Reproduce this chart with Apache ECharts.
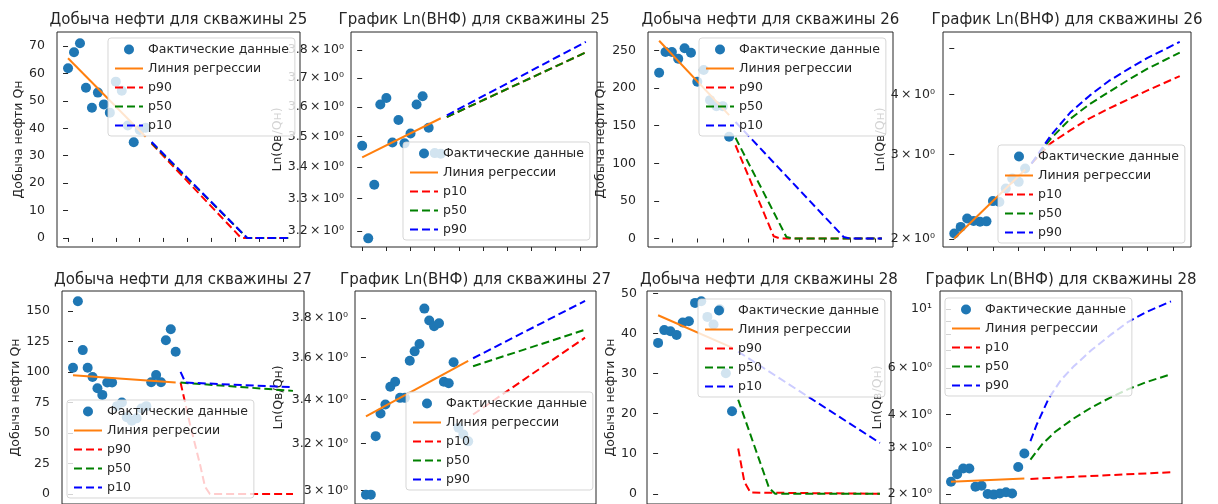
<!DOCTYPE html>
<html>
<head>
<meta charset="utf-8">
<script src="https://cdn.jsdelivr.net/npm/echarts@6/dist/echarts.min.js"></script>
<style>
  html, body { margin: 0; padding: 0; background: #fff; }
  #chart { width: 1218px; height: 504px; }
</style>
</head>
<body>
<div id="chart"></div>
<script>
// ---------- well 25 ----------
const oil25 = [61.9, 67.7, 71.0, 54.8, 47.5, 53.0, 48.7, 45.7, 57.0, 53.7, 41.0, 34.9, 39.4, 40.2];
const oil25Reg = [[0, 65.5], [13, 36.9]];
const oil25P90 = [[14, 34.4], [29, 0], [37, 0]];
const oil25P50 = [[14, 34.7], [30, 0], [37, 0]];
const oil25P10 = [[14, 35.0], [30, 0], [37, 0]];

const vnf25 = [3.470, 3.178, 3.344, 3.609, 3.631, 3.481, 3.556, 3.478, 3.511, 3.609, 3.637, 3.530, 3.446, 3.444];
const vnf25Reg = [[0, 3.432], [13, 3.562]];
const vnf25P10 = [[14, 3.566], [37, 3.792]];
const vnf25P50 = [[14, 3.566], [37, 3.792]];
const vnf25P90 = [[14, 3.572], [37, 3.830]];

// ---------- well 26 ----------
const oil26 = [220.5, 248, 248, 239, 253, 247, 208.5, 224, 184, 176, 176, 135.4];
const oil26Reg = [[0, 263], [11, 164]];
const oil26P90 = [[12, 124], [18, 3], [19, 0], [35, 0]];
const oil26P50 = [[12, 134], [20, 2], [21, 0], [35, 0]];
const oil26P10 = [[12, 155], [29, 2], [30, 0], [35, 0]];

const vnf26 = [2.055, 2.121, 2.208, 2.183, 2.173, 2.178, 2.40, 2.39, 2.55, 2.676, 2.632, 2.806];
const vnf26Reg = [[0, 2.007], [11, 2.79]];
const vnf26P10 = [[12, 2.875], [15, 3.17], [18, 3.37], [21, 3.57], [24, 3.74], [27, 3.91], [30, 4.08], [35, 4.37]];
const vnf26P50 = [[12, 2.875], [15, 3.24], [18, 3.56], [21, 3.82], [24, 4.05], [27, 4.29], [30, 4.53], [35, 4.89]];
const vnf26P90 = [[12, 2.875], [15, 3.29], [18, 3.67], [21, 3.98], [24, 4.27], [27, 4.52], [30, 4.77], [35, 5.15]];

// ---------- well 27 ----------
const oil27 = [103.5, 157.9, 117.9, 103.5, 95.9, 86.6, 81.2, 91.3, 91.3, 72, 75, 63, 60, 62, 70, 72, 91.5, 97.5, 91.5, 126, 135, 116.5];
const oil27Reg = [[0, 97.3], [21, 91.3]];
const oil27P90 = [[22, 91.3], [24, 56], [26, 24], [27, 6], [28, 0], [45, 0]];
const oil27P50 = [[22, 91.3], [45, 84.5]];
const oil27P10 = [[22, 100], [23, 91.3], [45, 87.5]];

const vnf27 = [2.984, 2.984, 3.233, 3.335, 3.376, 3.459, 3.483, 3.407, 3.407, 3.585, 3.631, 3.668, 3.85, 3.788, 3.758, 3.774, 3.483, 3.476, 3.577, 3.27, 3.24, 3.21];
const vnf27Reg = [[0, 3.322], [21, 3.584]];
const vnf27P10 = [[22, 3.33], [45, 3.70]];
const vnf27P50 = [[22, 3.558], [45, 3.74]];
const vnf27P90 = [[22, 3.597], [45, 3.891]];

// ---------- well 28 ----------
const oil28 = [37.7, 40.9, 40.6, 39.7, 42.8, 43.1, 47.7, 48.1, 44.2, 42.3, 46.1, 30.1, 20.6];
const oil28Reg = [[0, 44.6], [12, 36.5]];
const oil28P90 = [[13, 11.3], [14, 3], [15, 0.3], [36, 0]];
const oil28P50 = [[13, 23.5], [18, 1.5], [19, 0], [36, 0]];
const oil28P10 = [[13, 35.5], [36, 12.7]];

const vnf28 = [2.225, 2.378, 2.497, 2.497, 2.132, 2.151, 2.0, 1.99, 2.01, 2.03, 2.01, 2.532, 2.844];
const vnf28Reg = [[0, 2.225], [12, 2.292]];
const vnf28P10 = [[13, 2.282], [36, 2.418]];
const vnf28P50 = [[13, 2.70], [15, 3.10], [17, 3.43], [20, 3.85], [23, 4.25], [26, 4.62], [29, 4.98], [32, 5.30], [36, 5.67]];
const vnf28P90 = [[13, 3.17], [14, 3.65], [16, 4.60], [18, 5.40], [20, 6.05], [23, 7.0], [26, 7.95], [29, 8.95], [32, 9.75], [36, 10.69]];

// ---------- tick values ----------
const oil25Ticks = [0, 10, 20, 30, 40, 50, 60, 70];
const vnf25Ticks = [3.2, 3.3, 3.4, 3.5, 3.6, 3.7, 3.8];
const oil26Ticks = [0, 50, 100, 150, 200, 250];
const vnf26Ticks = [2, 3, 4];
const vnf26Minor = [5];
const oil27Ticks = [0, 25, 50, 75, 100, 125, 150];
const vnf27Ticks = [3.0, 3.2, 3.4, 3.6, 3.8];
const oil28Ticks = [0, 10, 20, 30, 40, 50];
const vnf28Ticks = [2, 3, 4, 6, 10];
const vnf28Minor = [5, 7, 8, 9];
const steps25 = [0, 4, 8, 12, 16, 20, 24, 28, 32, 36];
const steps26 = [2, 6, 10, 14, 18, 22, 26, 30, 34];

// ---------- look ----------
const FONT = 'DejaVu Sans';
const INK = '#262626';
const COL = { pts: '#1f77b4', reg: '#ff7f0e', red: '#ff0000', green: '#008000', blue: '#0000ff' };
const DASH = [8, 4];
const OIL_NAME = 'Добыча нефти Qн';
const VNF_NAME = 'Ln(Qв/Qн)';

const panels = [
  { title: 'Добыча нефти для скважины 25', yName: OIL_NAME, log: false,
    pts: oil25, reg: oil25Reg, fc: [['p90', oil25P90], ['p50', oil25P50], ['p10', oil25P10]],
    yTicks: oil25Ticks, xTicks: steps25, xr: [-1.85, 38.85], yr: [-3.3, 75.1],
    box: [57, 32, 243, 215], nameGap: 31, margin: 12, legend: [108, 38], titleTop: 13 },
  { title: 'График Ln(ВНФ) для скважины 25', yName: VNF_NAME, log: true,
    pts: vnf25, reg: vnf25Reg, fc: [['p10', vnf25P10], ['p50', vnf25P50], ['p90', vnf25P90]],
    yTicks: vnf25Ticks, xTicks: steps25, xr: [-1.85, 38.85], yr: [3.152, 3.866],
    box: [351, 32, 246, 215], nameGap: 66, margin: 7, legend: [403, 142], titleTop: 13 },
  { title: 'Добыча нефти для скважины 26', yName: OIL_NAME, log: false,
    pts: oil26, reg: oil26Reg, fc: [['p90', oil26P90], ['p50', oil26P50], ['p10', oil26P10]],
    yTicks: oil26Ticks, xTicks: steps26, xr: [-1.75, 36.75], yr: [-11.3, 274.6],
    box: [648, 32, 245, 215], nameGap: 41, margin: 12, legend: [699, 38], titleTop: 13 },
  { title: 'График Ln(ВНФ) для скважины 26', yName: VNF_NAME, log: true,
    pts: vnf26, reg: vnf26Reg, fc: [['p10', vnf26P10], ['p50', vnf26P50], ['p90', vnf26P90]],
    yTicks: vnf26Ticks, yMinor: vnf26Minor, xTicks: steps26, xr: [-1.75, 36.75], yr: [1.926, 5.40],
    box: [943, 32, 248, 215], nameGap: 55, margin: 8, legend: [998, 145], titleTop: 13 },
  { title: 'Добыча нефти для скважины 27', yName: OIL_NAME, log: false,
    pts: oil27, reg: oil27Reg, fc: [['p90', oil27P90], ['p50', oil27P50], ['p10', oil27P10]],
    yTicks: oil27Ticks, xr: [-2.25, 47.25], yr: [-8.15, 166.3],
    box: [62, 291, 242, 214], nameGap: 37, margin: 12, legend: [67, 400], titleTop: 273 },
  { title: 'График Ln(ВНФ) для скважины 27', yName: VNF_NAME, log: true,
    pts: vnf27, reg: vnf27Reg, fc: [['p10', vnf27P10], ['p50', vnf27P50], ['p90', vnf27P90]],
    yTicks: vnf27Ticks, xr: [-2.25, 47.25], yr: [2.946, 3.944],
    box: [355, 291, 241, 214], nameGap: 70, margin: 7, legend: [406, 392], titleTop: 273 },
  { title: 'Добыча нефти для скважины 28', yName: OIL_NAME, log: false,
    pts: oil28, reg: oil28Reg, fc: [['p90', oil28P90], ['p50', oil28P50], ['p10', oil28P10]],
    yTicks: oil28Ticks, xr: [-1.8, 37.8], yr: [-2.56, 50.67],
    box: [647, 291, 244, 214], nameGap: 30, margin: 10, legend: [698, 299], titleTop: 273 },
  { title: 'График Ln(ВНФ) для скважины 28', yName: VNF_NAME, log: true,
    pts: vnf28, reg: vnf28Reg, fc: [['p10', vnf28P10], ['p50', vnf28P50], ['p90', vnf28P90]],
    yTicks: vnf28Ticks, yMinor: vnf28Minor, xr: [-1.8, 37.8], yr: [1.834, 11.7],
    box: [940, 291, 242, 214], nameGap: 56, margin: 8, legend: [945, 298], titleTop: 273 }
];

const FC_COLORS = [COL.red, COL.green, COL.blue];
// legend entries for plain lines: hide the marker ECharts puts in the middle of a line icon
const LINE_ENTRY_STYLE = { color: 'rgba(0,0,0,0)', borderColor: 'rgba(0,0,0,0)', borderWidth: 0 };

// mathtext-like tick labels for the logarithmic panels
function logLabel(v) {
  const m = Math.round(Math.pow(10, v) * 10) / 10;
  if (Math.abs(m - 10) < 1e-6) return '10\u00B9';
  const s = Number.isInteger(m) ? String(m) : m.toFixed(1);
  return s + '\u2009\u00D7\u200910\u2070';
}

const option = {
  animation: false,
  backgroundColor: '#ffffff',
  textStyle: { fontFamily: FONT },
  title: [], grid: [], xAxis: [], yAxis: [], legend: [], series: []
};

panels.forEach((p, i) => {
  const tf = p.log ? (v => Math.log10(v)) : (v => v);
  const [gl, gt, gw, gh] = p.box;

  option.grid.push({ left: gl, top: gt, width: gw, height: gh, show: true,
    borderColor: INK, borderWidth: 1, backgroundColor: 'transparent' });

  option.title.push({ text: p.title, left: gl + gw / 2, top: p.titleTop, textAlign: 'center', padding: 0,
    textStyle: { fontSize: 15, fontWeight: 'normal', color: INK, fontFamily: FONT } });

  option.xAxis.push({ type: 'value', gridIndex: i, min: p.xr[0], max: p.xr[1],
    axisLine: { show: false }, splitLine: { show: false }, axisLabel: { show: false },
    axisTick: { show: !!p.xTicks, customValues: p.xTicks || [], length: 4, lineStyle: { color: INK } } });

  option.yAxis.push({ type: 'value', gridIndex: i, min: tf(p.yr[0]), max: tf(p.yr[1]),
    name: p.yName, nameLocation: 'middle', nameGap: p.nameGap,
    nameTextStyle: { fontSize: 12.5, color: INK, fontFamily: FONT },
    axisLine: { show: false }, splitLine: { show: false },
    axisLabel: { customValues: p.yTicks.map(tf), fontSize: 12.5, color: INK, fontFamily: FONT, margin: p.margin,
      formatter: p.log ? logLabel : (v => String(Math.round(v))) },
    axisTick: { customValues: p.yTicks.concat(p.yMinor || []).map(tf), length: 5, lineStyle: { color: INK } } });

  const legendData = [{ name: 'Фактические данные|' + i }, { name: 'Линия регрессии|' + i, itemStyle: LINE_ENTRY_STYLE }];
  option.series.push({ type: 'scatter', name: legendData[0].name, xAxisIndex: i, yAxisIndex: i,
    data: p.pts.map((v, k) => [k, tf(v)]), symbolSize: 10,
    itemStyle: { color: COL.pts, opacity: 1 }, z: 2 });
  option.series.push({ type: 'line', name: legendData[1].name, xAxisIndex: i, yAxisIndex: i,
    data: p.reg.map(([x, y]) => [x, tf(y)]), symbol: 'none',
    lineStyle: { color: COL.reg, width: 2 }, itemStyle: { color: COL.reg }, z: 3 });

  p.fc.forEach(([label, pts], j) => {
    const nm = label + '|' + i;
    legendData.push({ name: nm, itemStyle: LINE_ENTRY_STYLE });
    option.series.push({ type: 'line', name: nm, xAxisIndex: i, yAxisIndex: i,
      data: pts.map(([x, y]) => [x, tf(y)]), symbol: 'none',
      lineStyle: { color: FC_COLORS[j], width: 2, type: DASH },
      itemStyle: { color: FC_COLORS[j] }, z: 3 + j });
  });

  option.legend.push({ left: p.legend[0], top: p.legend[1], orient: 'vertical',
    itemWidth: 28, itemHeight: 10, itemGap: 4, padding: [4, 6, 3, 6],
    backgroundColor: 'rgba(255,255,255,0.8)', borderColor: 'rgba(204,204,204,0.8)',
    borderWidth: 1, borderRadius: 3, selectedMode: false, z: 10,
    textStyle: { fontSize: 12.5, color: INK, fontFamily: FONT, lineHeight: 15 },
    formatter: n => n.split('|')[0], data: legendData });
});

const chart = echarts.init(document.getElementById('chart'), null, { renderer: 'canvas' });
chart.setOption(option);
</script>
</body>
</html>
